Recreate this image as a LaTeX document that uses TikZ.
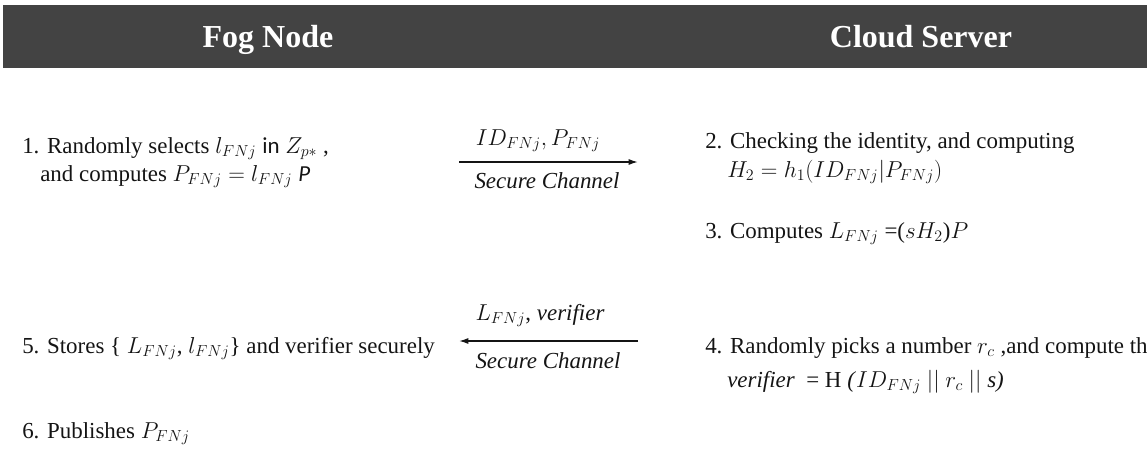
\documentclass[tikz,border=0pt]{standalone}
\usepackage{fontspec}
\setmainfont{Liberation Serif}
\newfontfamily\calibrifont{Carlito}
\usetikzlibrary{arrows.meta,positioning}
\definecolor{headGray}{RGB}{67,67,67}
\definecolor{txtBlack}{RGB}{20,20,20}

\begin{document}
\begin{tikzpicture}[x=0.75pt,y=-0.75pt,
    stepText/.style={anchor=base west, inner sep=0pt, text=txtBlack, font=\fontsize{17.2}{20}\selectfont},
    chanText/.style={anchor=base, inner sep=0pt, text=txtBlack, font=\fontsize{17.2}{20}\selectfont},
    headText/.style={anchor=base, inner sep=0pt, text=white, font=\fontsize{24}{28}\selectfont\bfseries},
    chanArrow/.style={line width=1.1pt, draw=txtBlack, -{Latex[length=7pt,width=4.5pt]}}]
    \useasboundingbox (0,0) rectangle (1147,450);
    \clip (0,0) rectangle (1147,450);
    % header bar
    \fill[headGray] (3,5) rectangle (1147,68);
    \node[headText] (fog) at (268,47) {Fog Node};
    \node[headText] (cloud) at (921,47) {Cloud Server};
    % fog node side
    \node[stepText] (s1a) at (22,153) {1. Randomly selects $l_{FNj}$ {\calibrifont in} $Z_{p*}$ ,};
    \node[stepText] (s1b) at (40,181) {and computes $P_{FNj} = l_{FNj}$ {\calibrifont\itshape P}};
    \node[stepText] (s5) at (22,353) {5. Stores \{ $L_{FNj}$, $l_{FNj}$\} and verifier securely};
    \node[stepText] (s6) at (22,438) {6. Publishes $P_{FNj}$};
    % cloud server side
    \node[stepText] (s2a) at (705,148) {2. Checking the identity, and computing};
    \node[stepText] (s2b) at (727,177) {$H_2 = h_1(ID_{FNj}|P_{FNj})$};
    \node[stepText] (s3) at (705,238) {3. Computes $L_{FNj}$ =($sH_2$)$P$};
    \node[stepText] (s4a) at (705,353) {4. Randomly picks a number $r_c$ ,and compute the};
    \node[stepText] (s4b) at (727,387) {\textit{verifier}\ \ = H \textit{(}$ID_{FNj}$ $||$ $r_c$ $||$ \textit{s)}};
    % channel messages
    \coordinate (a1s) at (459,162);
    \coordinate (a1e) at (638,162);
    \draw[chanArrow] (a1s) -- (a1e);
    \node[chanText] (m1) at (538,145) {$ID_{FNj}, P_{FNj}$};
    \node[chanText] (c1) at (547,188) {\textit{Secure Channel}};
    \coordinate (a2s) at (638,341);
    \coordinate (a2e) at (459,341);
    \draw[chanArrow] (a2s) -- (a2e);
    \node[chanText] (m2) at (540,320) {$L_{FNj}$, \textit{verifier}};
    \node[chanText] (c2) at (548,368) {\textit{Secure Channel}};
\end{tikzpicture}
\end{document}
